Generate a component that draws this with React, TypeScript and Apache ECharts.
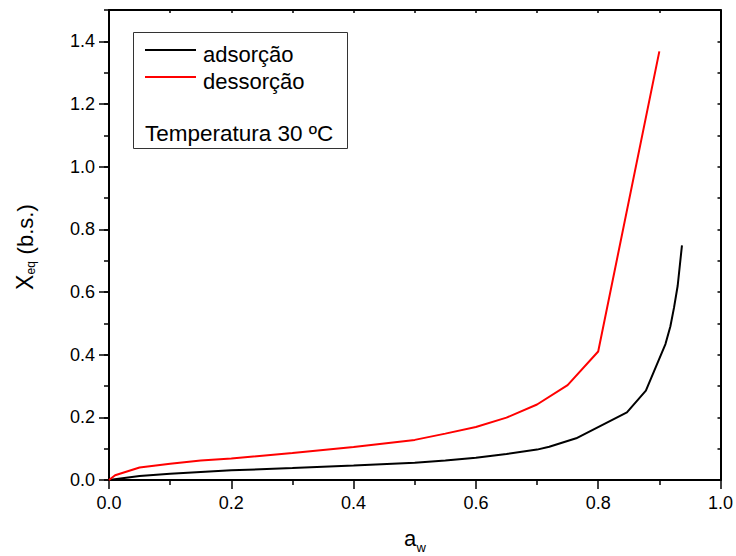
import React, { useEffect, useRef } from 'react';
import * as echarts from 'echarts';

// Adsorption isotherm (black)
const adsX = [0, 0.05, 0.1, 0.2, 0.3, 0.4, 0.5, 0.55, 0.6, 0.65, 0.7, 0.72, 0.764, 0.847, 0.878, 0.91, 0.918, 0.924, 0.93, 0.937];
const adsY = [0, 0.013, 0.02, 0.031, 0.038, 0.046, 0.055, 0.062, 0.071, 0.083, 0.097, 0.106, 0.133, 0.216, 0.285, 0.434, 0.49, 0.55, 0.62, 0.749];
// Desorption isotherm (red)
const desX = [0, 0.01, 0.05, 0.1, 0.15, 0.2, 0.3, 0.4, 0.5, 0.55, 0.6, 0.65, 0.7, 0.75, 0.8, 0.9];
const desY = [0, 0.015, 0.04, 0.052, 0.062, 0.069, 0.086, 0.105, 0.128, 0.148, 0.169, 0.199, 0.241, 0.303, 0.41, 1.368];

const yMajorTicks = [0, 0.2, 0.4, 0.6, 0.8, 1.0, 1.2, 1.4];
const seriesNames = ['adsorção', 'dessorção'];
const seriesColors = ['#000000', '#ff0000'];
const noteText = 'Temperatura 30 ºC';

export default function App() {
  const ref = useRef<HTMLDivElement>(null);
  useEffect(() => {
    const chart = echarts.init(ref.current!, null, { renderer: 'svg' });
    const font = 'Liberation Sans, Arial, sans-serif';
    const black = '#000';
    const axisLine = { show: true, onZero: false, lineStyle: { color: black, width: 2 } };
    const tickStyle = { color: black, width: 1.5 };
    const labelStyle = { color: black, fontSize: 18, fontFamily: font };
    const fmt = (v: number) => v.toFixed(1);

    const option: any = {
      animation: false,
      grid: { left: 109, right: 14, top: 10, bottom: 76 },
      xAxis: [
        {
          type: 'value', position: 'bottom', min: 0, max: 1, interval: 0.2,
          axisLine,
          axisTick: { show: true, inside: false, length: 9, lineStyle: tickStyle },
          minorTick: { show: true, splitNumber: 2, length: 5, lineStyle: tickStyle },
          splitLine: { show: false }, minorSplitLine: { show: false },
          axisLabel: { ...labelStyle, margin: 14, formatter: fmt },
        },
        {
          type: 'value', position: 'top', min: 0, max: 1, interval: 0.1,
          axisLine,
          axisTick: { show: true, inside: true, length: 3, lineStyle: tickStyle },
          splitLine: { show: false },
          axisLabel: { show: false },
        },
      ],
      yAxis: [
        {
          type: 'value', position: 'left', min: 0, max: 1.5,
          axisLine,
          axisTick: { show: true, inside: false, length: 10, lineStyle: tickStyle, customValues: yMajorTicks },
          splitLine: { show: false },
          axisLabel: { ...labelStyle, margin: 14, formatter: fmt, customValues: yMajorTicks },
        },
        {
          type: 'value', position: 'left', min: 0, max: 1.5, interval: 0.1,
          axisLine: { show: false },
          axisTick: { show: true, inside: false, length: 5, lineStyle: tickStyle },
          splitLine: { show: false },
          axisLabel: { show: false },
        },
        {
          type: 'value', position: 'right', min: 0, max: 1.5, interval: 0.1,
          axisLine,
          axisTick: { show: true, inside: true, length: 3, lineStyle: tickStyle },
          splitLine: { show: false },
          axisLabel: { show: false },
        },
      ],
      series: [
        {
          name: seriesNames[0], type: 'line', xAxisIndex: 0, yAxisIndex: 0,
          showSymbol: false, symbol: 'none',
          lineStyle: { color: seriesColors[0], width: 2 },
          data: adsX.map((x, i) => [x, adsY[i]]),
        },
        {
          name: seriesNames[1], type: 'line', xAxisIndex: 0, yAxisIndex: 0,
          showSymbol: false, symbol: 'none',
          lineStyle: { color: seriesColors[1], width: 2 },
          data: desX.map((x, i) => [x, desY[i]]),
        },
      ],
      graphic: [
        {
          type: 'rect', z: 100,
          shape: { x: 133.5, y: 32.5, width: 214, height: 116 },
          style: { fill: '#fff', stroke: '#333', lineWidth: 1 },
        },
        {
          type: 'line', z: 101,
          shape: { x1: 145, y1: 50, x2: 196, y2: 50 },
          style: { stroke: seriesColors[0], lineWidth: 2 },
        },
        {
          type: 'line', z: 101,
          shape: { x1: 145, y1: 77, x2: 196, y2: 77 },
          style: { stroke: seriesColors[1], lineWidth: 2 },
        },
        {
          type: 'text', z: 101, x: 203, y: 54,
          style: { text: seriesNames[0], fill: black, fontSize: 22, fontFamily: font, align: 'left', verticalAlign: 'middle' },
        },
        {
          type: 'text', z: 101, x: 203, y: 81,
          style: { text: seriesNames[1], fill: black, fontSize: 22, fontFamily: font, align: 'left', verticalAlign: 'middle' },
        },
        {
          type: 'text', z: 101, x: 145, y: 133,
          style: { text: noteText, fill: black, fontSize: 22.5, fontFamily: font, align: 'left', verticalAlign: 'middle' },
        },
        // x axis title a_w
        {
          type: 'text', x: 404, y: 538,
          style: { text: 'a', fill: black, fontSize: 22, fontFamily: font, align: 'left', verticalAlign: 'middle' },
        },
        {
          type: 'text', x: 416.5, y: 547,
          style: { text: 'w', fill: black, fontSize: 13, fontFamily: font, align: 'left', verticalAlign: 'middle' },
        },
        // y axis title X_eq (b.s.)
        {
          type: 'group', x: 25, y: 290, rotation: Math.PI / 2,
          children: [
            {
              type: 'text', x: 0, y: 0,
              style: { text: 'X', fill: black, fontSize: 23, fontFamily: font, align: 'left', verticalAlign: 'middle' },
            },
            {
              type: 'text', x: 15.5, y: 6,
              style: { text: 'eq', fill: black, fontSize: 12, fontFamily: font, align: 'left', verticalAlign: 'middle' },
            },
            {
              type: 'text', x: 29.5, y: 0,
              style: { text: ' (b.s.)', fill: black, fontSize: 22, fontFamily: font, align: 'left', verticalAlign: 'middle' },
            },
          ],
        },
      ],
    };
    chart.setOption(option);
    return () => chart.dispose();
  }, []);
  return <div ref={ref} style={{ position: 'fixed', left: 0, top: 0, width: 736, height: 556, background: '#fff' }} />;
}
